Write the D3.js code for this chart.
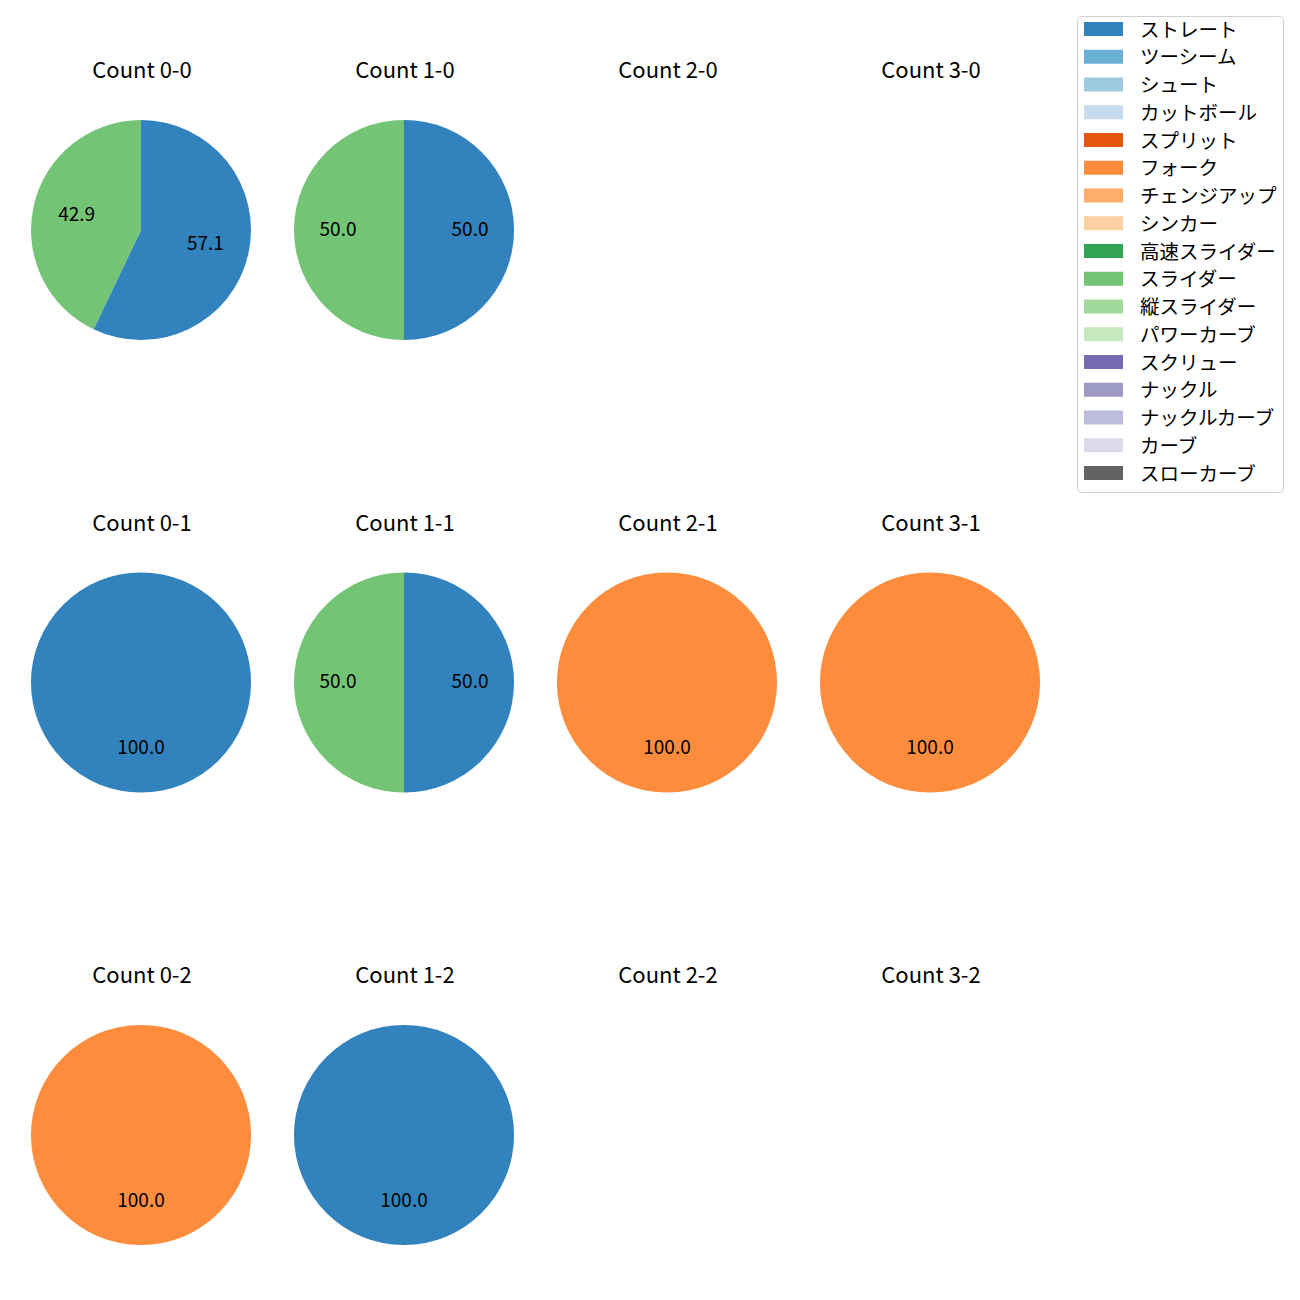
<!DOCTYPE html>
<html><head><meta charset="utf-8">
<script src="https://cdn.jsdelivr.net/npm/d3@7"></script>
<style>body{margin:0;background:#fff}svg{display:block}</style>
</head><body>
<script>
const pitchTypes = ["ストレート","ツーシーム","シュート","カットボール","スプリット","フォーク","チェンジアップ","シンカー","高速スライダー","スライダー","縦スライダー","パワーカーブ","スクリュー","ナックル","ナックルカーブ","カーブ","スローカーブ"];
const pitchColors = ["#3182bd","#6baed6","#9ecae1","#c6dbef","#e6550d","#fd8d3c","#fdae6b","#fdd0a2","#31a354","#74c476","#a1d99b","#c7e9c0","#756bb1","#9e9ac8","#bcbddc","#dadaeb","#636363"];
const balls = [0,1,2,3];
const strikes = [0,1,2];
const count00 = [["ストレート",57.1],["スライダー",42.9]];
const count10 = [["ストレート",50.0],["スライダー",50.0]];
const count20 = [];
const count30 = [];
const count01 = [["ストレート",100.0]];
const count11 = [["ストレート",50.0],["スライダー",50.0]];
const count21 = [["フォーク",100.0]];
const count31 = [["フォーク",100.0]];
const count02 = [["フォーク",100.0]];
const count12 = [["ストレート",100.0]];
const count22 = [];
const count32 = [];
const countData = [[count00,count10,count20,count30],[count01,count11,count21,count31],[count02,count12,count22,count32]];

const W = 1300, H = 1300;
const font = "'Noto Sans CJK JP', 'Noto Sans', sans-serif";
const svg = d3.select("body").append("svg").attr("width",W).attr("height",H);
const color = d3.scaleOrdinal().domain(pitchTypes).range(pitchColors);
const colX = d3.scalePoint().domain(balls).range([141,930]);
const rowY = d3.scalePoint().domain(strikes).range([230,1135]);
const R = 110;
const pie = d3.pie().sort(null).value(d=>d[1]);
const arc = d3.arc().innerRadius(0).outerRadius(R);
const labelArc = d3.arc().innerRadius(R*0.6).outerRadius(R*0.6);

strikes.forEach(s=>{
  balls.forEach(b=>{
    const cx = colX(b), cy = rowY(s);
    const g = svg.append("g").attr("transform",`translate(${cx},${cy})`);
    svg.append("text").attr("x",cx+1).attr("y",cy-162).attr("text-anchor","middle")
      .attr("dominant-baseline","central").style("font-family",font).style("font-size","22px")
      .attr("fill","#000").text(`Count ${b}-${s}`);
    const data = countData[s][b];
    if (!data.length) return;
    const arcs = pie(data);
    g.selectAll("path").data(arcs).join("path").attr("d",arc).attr("fill",d=>color(d.data[0]));
    g.selectAll("text").data(arcs).join("text")
      .attr("transform",d=>`translate(${labelArc.centroid(d)})`)
      .attr("dy",-3)
      .attr("text-anchor","middle").attr("dominant-baseline","central")
      .style("font-family",font).style("font-size","19px").attr("fill","#000")
      .text(d=>d.data[1].toFixed(1));
  });
});

const lg = svg.append("g");
lg.append("rect").attr("x",1077.5).attr("y",16.5).attr("width",206).attr("height",476).attr("rx",4)
  .attr("fill","#fff").attr("stroke","#d0d0d0").attr("stroke-width",1);
const ly = d3.scalePoint().domain(pitchTypes).range([29,473]);
pitchTypes.forEach(p=>{
  lg.append("rect").attr("x",1084).attr("y",ly(p)-7).attr("width",39).attr("height",14).attr("fill",color(p));
  lg.append("text").attr("x",1140).attr("y",ly(p)-1).attr("dominant-baseline","central")
    .style("font-family",font).style("font-size","19.5px").attr("fill","#000").text(p);
});
</script>
</body></html>
